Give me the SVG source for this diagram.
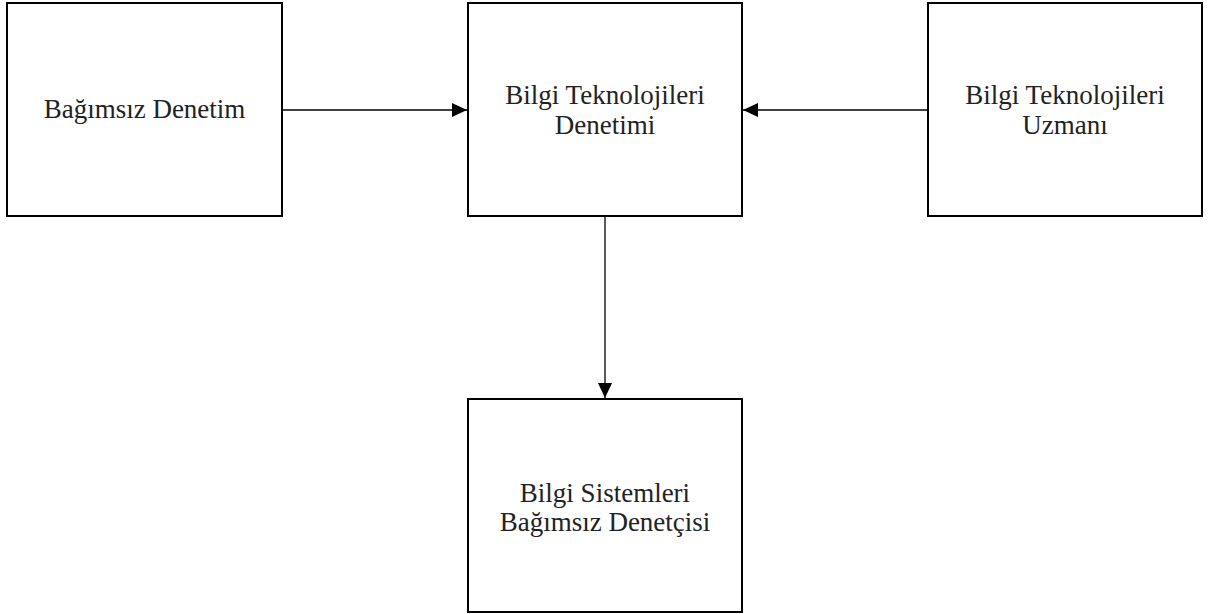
<svg xmlns="http://www.w3.org/2000/svg" width="1218" height="614" viewBox="0 0 1218 614">
<style>
.box{fill:#fff;stroke:#000;stroke-width:2}
.lbl{font-family:"Liberation Serif","Times New Roman",serif;font-size:27px;fill:#222;text-anchor:middle}
.conn{stroke:#000;stroke-width:1.3;fill:none}
</style>
<defs>
<marker id="arr" viewBox="0 0 15 14" refX="15" refY="7" markerWidth="15" markerHeight="14" markerUnits="userSpaceOnUse" orient="auto">
<path d="M0,0 L15,7 L0,14 Z" fill="#000"/>
</marker>
</defs>
<rect width="1218" height="614" fill="#fff"/>
<g id="connectors">
<line class="conn" x1="282" y1="110" x2="467" y2="110" marker-end="url(#arr)"/>
<line class="conn" x1="928" y1="110" x2="743" y2="110" marker-end="url(#arr)"/>
<line class="conn" x1="605" y1="216" x2="605" y2="398" marker-end="url(#arr)"/>
</g>
<g id="bagimsiz-denetim">
<rect class="box" x="7" y="3" width="275" height="213"/>
<text class="lbl" x="144.5" y="118">Bağımsız Denetim</text>
</g>
<g id="bt-denetimi">
<rect class="box" x="468" y="3" width="274" height="213"/>
<text class="lbl" x="605" y="104">Bilgi Teknolojileri</text>
<text class="lbl" x="605" y="134">Denetimi</text>
</g>
<g id="bt-uzmani">
<rect class="box" x="928" y="3" width="274" height="213"/>
<text class="lbl" x="1065" y="104">Bilgi Teknolojileri</text>
<text class="lbl" x="1065" y="134">Uzmanı</text>
</g>
<g id="bs-denetcisi">
<rect class="box" x="468" y="399" width="274" height="213"/>
<text class="lbl" x="605" y="502">Bilgi Sistemleri</text>
<text class="lbl" x="605" y="531">Bağımsız Denetçisi</text>
</g>
</svg>
